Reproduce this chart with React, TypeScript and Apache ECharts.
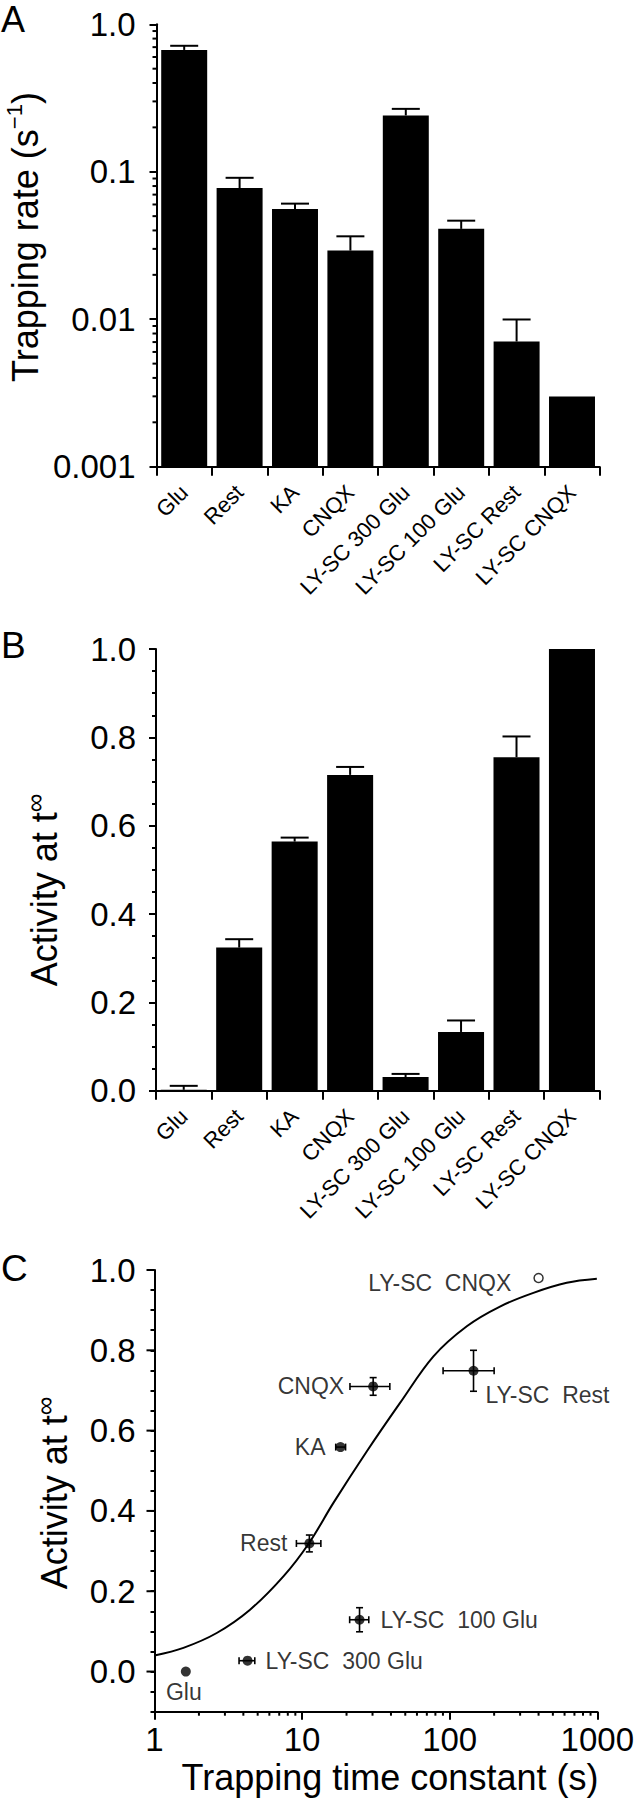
import React, { useEffect, useRef } from 'react';
import * as echarts from 'echarts';

const FONT = "'Liberation Sans', Arial, Helvetica, sans-serif";

// ---------- shared categories ----------
const categories = ['Glu', 'Rest', 'KA', 'CNQX', 'LY-SC 300 Glu', 'LY-SC 100 Glu', 'LY-SC Rest', 'LY-SC CNQX'];

// ---------- Panel A: trapping rate (s^-1), log axis ----------
const trapRate = [0.67, 0.0776, 0.056, 0.0292, 0.241, 0.041, 0.00706, 0.00299];
const trapRateErr = [0.045, 0.0134, 0.0048, 0.0073, 0.026, 0.0056, 0.0029, 0];
const trapRateTickLabels = ['0.001', '0.01', '0.1', '1.0'];
const trapRateDecades = [0.001, 0.01, 0.1];
const minorMultipliers = [2, 3, 4, 5, 6, 7, 8, 9];

// ---------- Panel B: activity at t-infinity ----------
const activity = [0.002, 0.324, 0.564, 0.715, 0.031, 0.133, 0.755, 1.0];
const activityErr = [0.009, 0.019, 0.009, 0.018, 0.007, 0.026, 0.047, 0];

// ---------- Panel C: activity vs trapping time constant ----------
const pointNames = ['Glu', 'LY-SC  300 Glu', 'Rest', 'KA', 'LY-SC  100 Glu', 'CNQX', 'LY-SC  Rest', 'LY-SC  CNQX'];
const tau = [1.63, 4.27, 11.2, 18.2, 24.5, 30.3, 145, 400];
const tauLow = [1.63, 3.74, 9.15, 16.9, 21.0, 21.1, 90.2, 400];
const tauHigh = [1.63, 4.78, 13.4, 19.7, 28.3, 39.3, 200, 400];
const actInf = [0.0, 0.027, 0.319, 0.559, 0.129, 0.71, 0.749, 0.98];
const actInfErr = [0, 0, 0.021, 0, 0.03, 0.022, 0.051, 0];
const fitTau = [1, 1.57, 2.64, 4.44, 7.47, 11.1, 16.3, 27.4, 46.1, 77.6, 130.6, 219, 369, 621, 993];
const fitAct = [0.04, 0.059, 0.096, 0.154, 0.237, 0.319, 0.42, 0.548, 0.669, 0.785, 0.86, 0.909, 0.943, 0.968, 0.978];
const activityMajorTicks = [0, 0.2, 0.4, 0.6, 0.8, 1.0];
const tauDecades = [1, 10, 100];

// label placement for panel C points (style only)
const labelPlacement: any[] = [
  { position: 'bottom', distance: 4, offset: [-2, 0] },
  { position: 'right', distance: 13 },
  { position: 'left', distance: 17 },
  { position: 'left', distance: 10 },
  { position: 'right', distance: 16 },
  { position: 'left', distance: 24 },
  { position: 'right', distance: 7, offset: [0, 24] },
  { position: 'left', distance: 22, offset: [0, 5] },
];

const BLACK = '#000';
const AX_LINE = { show: true, onZero: false, lineStyle: { color: BLACK, width: 2 } };
const TICK_FONT = 33;

function buildOption(): any {
  const minorA: number[][] = [];
  trapRateDecades.forEach((d) => minorMultipliers.forEach((m) => minorA.push([0, d * m])));
  const minorCx: number[][] = [];
  tauDecades.forEach((d) => minorMultipliers.forEach((m) => minorCx.push([d * m, 0])));

  const catLabel = {
    show: true,
    interval: 0,
    rotate: 45,
    margin: 22,
    fontSize: 22,
    color: BLACK,
    fontFamily: FONT,
  };

  const lineStyle = { stroke: BLACK, lineWidth: 2 };

  const upErrorBar = (params: any, api: any) => {
    const i = api.value(0);
    const v = api.value(1);
    const e = api.value(2);
    if (!e) return null;
    const p0 = api.coord([i, v]);
    const p1 = api.coord([i, v + e]);
    const half = 14;
    return {
      type: 'group',
      children: [
        { type: 'line', shape: { x1: p0[0], y1: p0[1], x2: p1[0], y2: p1[1] }, style: lineStyle },
        { type: 'line', shape: { x1: p1[0] - half, y1: p1[1], x2: p1[0] + half, y2: p1[1] }, style: lineStyle },
      ],
    };
  };

  const yLabelBase = { show: true, fontSize: TICK_FONT, color: BLACK, fontFamily: FONT };

  return {
    animation: false,
    backgroundColor: '#fff',
    textStyle: { fontFamily: FONT, color: BLACK },
    grid: [
      { left: 156.5, top: 24.3, width: 443.2, height: 442.4, containLabel: false, outerBoundsMode: 'none' },
      { left: 156, top: 649, width: 443.7, height: 441.7, containLabel: false, outerBoundsMode: 'none' },
      { left: 154.5, top: 1270, width: 442.8, height: 441.7, containLabel: false, outerBoundsMode: 'none' },
    ],
    xAxis: [
      {
        type: 'category',
        gridIndex: 0,
        data: categories,
        boundaryGap: true,
        axisLine: AX_LINE,
        axisTick: { show: true, length: 9, alignWithLabel: false, lineStyle: { color: BLACK, width: 2 } },
        axisLabel: catLabel,
        splitLine: { show: false },
      },
      {
        type: 'category',
        gridIndex: 1,
        data: categories,
        boundaryGap: true,
        axisLine: AX_LINE,
        axisTick: { show: true, length: 9, alignWithLabel: false, lineStyle: { color: BLACK, width: 2 } },
        axisLabel: catLabel,
        splitLine: { show: false },
      },
      {
        type: 'log',
        logBase: 10,
        gridIndex: 2,
        min: 1,
        max: 1000,
        axisLine: AX_LINE,
        axisTick: { show: true, length: 8, lineStyle: { color: BLACK, width: 2 } },
        axisLabel: {
          show: true,
          fontSize: TICK_FONT,
          margin: 11,
          color: BLACK,
          fontFamily: FONT,
          formatter: (v: number) => String(Math.round(v)),
        },
        splitLine: { show: false },
        minorTick: { show: false },
      },
    ],
    yAxis: [
      {
        type: 'log',
        logBase: 10,
        gridIndex: 0,
        min: 0.001,
        max: 1,
        axisLine: AX_LINE,
        axisTick: { show: true, length: 7, lineStyle: { color: BLACK, width: 2 } },
        axisLabel: {
          ...yLabelBase,
          margin: 21,
          formatter: (v: number) => {
            const k = Math.round(Math.log10(v)) + 3;
            return trapRateTickLabels[k] ?? '';
          },
        },
        splitLine: { show: false },
      },
      {
        type: 'value',
        gridIndex: 1,
        min: 0,
        max: 1,
        interval: 0.2,
        axisLine: AX_LINE,
        axisTick: { show: true, length: 7, lineStyle: { color: BLACK, width: 2 } },
        minorTick: { show: true, splitNumber: 4, length: 4, lineStyle: { color: BLACK, width: 2 } },
        axisLabel: {
          ...yLabelBase,
          margin: 20,
          formatter: (v: number) => v.toFixed(1),
        },
        splitLine: { show: false },
        minorSplitLine: { show: false },
      },
      {
        type: 'value',
        gridIndex: 2,
        min: -0.1,
        max: 1.0,
        interval: 0.05,
        axisLine: AX_LINE,
        axisTick: { show: true, length: 4, lineStyle: { color: BLACK, width: 2 } },
        axisLabel: {
          ...yLabelBase,
          margin: 19,
          formatter: (v: number) => {
            const r = Math.round(v * 100);
            return r >= 0 && r % 20 === 0 ? (r / 100).toFixed(1) : '';
          },
        },
        splitLine: { show: false },
      },
    ],
    graphic: [
      { type: 'text', x: 1, y: 19, style: { text: 'A', fontSize: 36, fontFamily: FONT, fill: BLACK, textVerticalAlign: 'middle' } },
      { type: 'text', x: 1, y: 645.5, style: { text: 'B', fontSize: 37, fontFamily: FONT, fill: BLACK, textVerticalAlign: 'middle' } },
      { type: 'text', x: 1, y: 1268, style: { text: 'C', fontSize: 37, fontFamily: FONT, fill: BLACK, textVerticalAlign: 'middle' } },
      {
        type: 'text',
        x: 25,
        y: 237,
        rotation: Math.PI / 2,
        style: {
          text: '{m|Trapping rate (s}{sup|\u22121}{m|)}',
          textAlign: 'center',
          textVerticalAlign: 'middle',
          fill: BLACK,
          rich: {
            m: { fontSize: 36, fontFamily: FONT, lineHeight: 44, fill: BLACK },
            sup: { fontSize: 22, fontFamily: FONT, lineHeight: 26, verticalAlign: 'top', fill: BLACK },
          },
        },
      },
      {
        type: 'text',
        x: 44,
        y: 890,
        rotation: Math.PI / 2,
        style: {
          text: '{m|Activity at t}{inf|\u221E}',
          textAlign: 'center',
          textVerticalAlign: 'middle',
          fill: BLACK,
          rich: {
            m: { fontSize: 36, fontFamily: FONT, lineHeight: 44, fill: BLACK },
            inf: { fontSize: 26, fontFamily: FONT, lineHeight: 34, verticalAlign: 'top', fill: BLACK },
          },
        },
      },
      {
        type: 'text',
        x: 54,
        y: 1493,
        rotation: Math.PI / 2,
        style: {
          text: '{m|Activity at t}{inf|\u221E}',
          textAlign: 'center',
          textVerticalAlign: 'middle',
          fill: BLACK,
          rich: {
            m: { fontSize: 36, fontFamily: FONT, lineHeight: 44, fill: BLACK },
            inf: { fontSize: 26, fontFamily: FONT, lineHeight: 34, verticalAlign: 'top', fill: BLACK },
          },
        },
      },
      {
        type: 'text',
        x: 390,
        y: 1777,
        style: {
          text: 'Trapping time constant (s)',
          fontSize: 36,
          fontFamily: FONT,
          fill: BLACK,
          textAlign: 'center',
          textVerticalAlign: 'middle',
        },
      },
    ],
    series: [
      // Panel A bars (custom so they rise from the log axis minimum)
      {
        type: 'custom',
        xAxisIndex: 0,
        yAxisIndex: 0,
        clip: false,
        data: categories.map((c, i) => [i, trapRate[i]]),
        renderItem: (params: any, api: any) => {
          const i = api.value(0);
          const v = api.value(1);
          const top = api.coord([i, v]);
          const base = api.coord([i, 0.001]);
          const band = api.coord([i + 1, v])[0] - top[0];
          const w = band * 0.83;
          return {
            type: 'rect',
            shape: { x: top[0] - w / 2, y: top[1], width: w, height: base[1] - top[1] },
            style: { fill: BLACK },
          };
        },
        z: 2,
      },
      {
        type: 'custom',
        xAxisIndex: 0,
        yAxisIndex: 0,
        clip: false,
        data: categories.map((c, i) => [i, trapRate[i], trapRateErr[i]]),
        renderItem: upErrorBar,
        z: 3,
      },
      // Panel A minor log ticks
      {
        type: 'custom',
        xAxisIndex: 0,
        yAxisIndex: 0,
        clip: false,
        silent: true,
        data: minorA,
        renderItem: (params: any, api: any) => {
          const y = api.coord([0, api.value(1)])[1];
          const x0 = params.coordSys.x;
          return { type: 'line', shape: { x1: x0 - 4, y1: y, x2: x0, y2: y }, style: lineStyle };
        },
      },
      // Panel B bars
      {
        type: 'bar',
        xAxisIndex: 1,
        yAxisIndex: 1,
        data: activity,
        barWidth: '83%',
        itemStyle: { color: BLACK },
        z: 2,
      },
      {
        type: 'custom',
        xAxisIndex: 1,
        yAxisIndex: 1,
        clip: false,
        data: categories.map((c, i) => [i, activity[i], activityErr[i]]),
        renderItem: upErrorBar,
        z: 3,
      },
      // Panel C fit curve
      {
        type: 'line',
        xAxisIndex: 2,
        yAxisIndex: 2,
        data: fitTau.map((t, i) => [t, fitAct[i]]),
        smooth: 0.35,
        symbol: 'none',
        showSymbol: false,
        lineStyle: { color: BLACK, width: 2 },
        z: 2,
      },
      // Panel C error bars
      {
        type: 'custom',
        xAxisIndex: 2,
        yAxisIndex: 2,
        clip: false,
        data: tau.map((t, i) => [t, actInf[i], tauLow[i], tauHigh[i], actInfErr[i]]),
        renderItem: (params: any, api: any) => {
          const x = api.value(0);
          const y = api.value(1);
          const lo = api.value(2);
          const hi = api.value(3);
          const e = api.value(4);
          const cap = 3.5;
          const st = { stroke: BLACK, lineWidth: 1.6 };
          const children: any[] = [];
          if (hi > lo) {
            const a = api.coord([lo, y]);
            const b = api.coord([hi, y]);
            children.push({ type: 'line', shape: { x1: a[0], y1: a[1], x2: b[0], y2: b[1] }, style: st });
            children.push({ type: 'line', shape: { x1: a[0], y1: a[1] - cap, x2: a[0], y2: a[1] + cap }, style: st });
            children.push({ type: 'line', shape: { x1: b[0], y1: b[1] - cap, x2: b[0], y2: b[1] + cap }, style: st });
          }
          if (e > 0) {
            const a = api.coord([x, y - e]);
            const b = api.coord([x, y + e]);
            children.push({ type: 'line', shape: { x1: a[0], y1: a[1], x2: b[0], y2: b[1] }, style: st });
            children.push({ type: 'line', shape: { x1: a[0] - cap, y1: a[1], x2: a[0] + cap, y2: a[1] }, style: st });
            children.push({ type: 'line', shape: { x1: b[0] - cap, y1: b[1], x2: b[0] + cap, y2: b[1] }, style: st });
          }
          return { type: 'group', children };
        },
        z: 3,
      },
      // Panel C points with labels
      {
        type: 'scatter',
        xAxisIndex: 2,
        yAxisIndex: 2,
        z: 4,
        data: pointNames.map((n, i) => {
          const open = i === pointNames.length - 1;
          return {
            name: n,
            value: [tau[i], actInf[i]],
            symbol: 'circle',
            symbolSize: open ? 9 : 10,
            itemStyle: open
              ? { color: '#fff', borderColor: BLACK, borderWidth: 1.5 }
              : { color: BLACK },
            label: {
              show: true,
              formatter: '{b}',
              fontSize: 23,
              fontFamily: FONT,
              color: BLACK,
              ...labelPlacement[i],
            },
          };
        }),
      },
      // Panel C major y ticks
      {
        type: 'custom',
        xAxisIndex: 2,
        yAxisIndex: 2,
        clip: false,
        silent: true,
        data: activityMajorTicks.map((v) => [1, v]),
        renderItem: (params: any, api: any) => {
          const y = api.coord([1, api.value(1)])[1];
          const x0 = params.coordSys.x;
          return { type: 'line', shape: { x1: x0 - 8, y1: y, x2: x0, y2: y }, style: lineStyle };
        },
      },
      // Panel C minor x log ticks
      {
        type: 'custom',
        xAxisIndex: 2,
        yAxisIndex: 2,
        clip: false,
        silent: true,
        data: minorCx,
        renderItem: (params: any, api: any) => {
          const x = api.coord([api.value(0), 0])[0];
          const y0 = params.coordSys.y + params.coordSys.height;
          return { type: 'line', shape: { x1: x, y1: y0, x2: x, y2: y0 + 4 }, style: lineStyle };
        },
      },
    ],
  };
}

export default function App() {
  const ref = useRef<HTMLDivElement>(null);
  useEffect(() => {
    if (!ref.current) return;
    const chart = echarts.init(ref.current, null, { renderer: 'svg' });
    chart.setOption(buildOption());
    return () => {
      chart.dispose();
    };
  }, []);
  return (
    <div
      ref={ref}
      style={{ position: 'absolute', left: 0, top: 0, width: 638, height: 1800, background: '#fff' }}
    />
  );
}
